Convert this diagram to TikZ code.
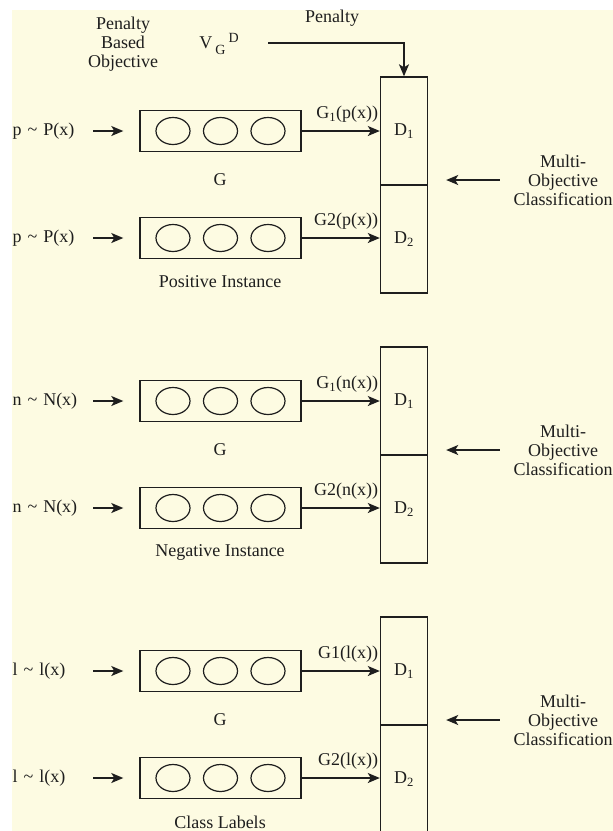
\documentclass[tikz,border=0pt]{standalone}
\usepackage{fontspec}
\setmainfont{Liberation Serif}
\usetikzlibrary{shapes,arrows.meta,positioning}

\definecolor{bgcream}{RGB}{253,251,226}
\definecolor{inkgray}{RGB}{30,30,30}

\tikzset{
  every node/.style={font=\fontsize{18}{19}\selectfont, text=inkgray},
  gbox/.style={draw=inkgray, line width=1.4pt, minimum width=161pt, minimum height=41pt, inner sep=0pt},
  unit/.style={draw=inkgray, line width=1.2pt, ellipse, minimum width=34pt, minimum height=27pt, inner sep=0pt},
  dbox/.style={draw=inkgray, line width=1.4pt, minimum width=47pt, minimum height=108pt, inner sep=0pt},
  inlab/.style={anchor=west, text width=72pt, align=left},
  outlab/.style={above left, inner xsep=1pt, inner ysep=2pt, yshift=6pt},
  arr/.style={-{Stealth[length=12pt,width=10pt,inset=3pt]}, draw=inkgray, line width=1.4pt},
}

\begin{document}
\begin{tikzpicture}[x=1pt, y=-1pt]
    % page and cream background
    \useasboundingbox (0,0) rectangle (613,831);
    \fill[white] (0,0) rectangle (613,831);
    \fill[bgcream] (12,10) rectangle (613,831);

    % three stacked generator / discriminator groups
    \foreach \grp/\lo/\up/\one/\capt in {0/p/P/{\textsubscript{1}}/Positive Instance,
                                        1/n/N/{\textsubscript{1}}/Negative Instance,
                                        2/l/l/1/Class Labels} {
        \pgfmathsetmacro{\oy}{270*\grp}
        % discriminator column
        \node[dbox] (dA\grp) at (404, 131+\oy) {D\textsubscript{1}};
        \node[dbox] (dB\grp) at (404, 239+\oy) {D\textsubscript{2}};
        % generator boxes with units
        \node[gbox] (gA\grp) at (220.5, 131+\oy) {};
        \node[gbox] (gB\grp) at (220.5, 238+\oy) {};
        \foreach \ux [count=\ui] in {-47.5,0,47.5} {
            \node[unit] (uA\grp-\ui) at ([xshift=\ux pt]gA\grp.center) {};
            \node[unit] (uB\grp-\ui) at ([xshift=\ux pt]gB\grp.center) {};
        }
        \node (gl\grp) at (220, 180+\oy) {G};
        \node (cap\grp) at (220, 282+\oy) {\capt};
        % inputs
        \node[inlab] (inA\grp) at (9, 131+\oy) {\lo\ \textasciitilde\ \up(x)};
        \node[inlab] (inB\grp) at (9, 238+\oy) {\lo\ \textasciitilde\ \up(x)};
        \draw[arr] ([xshift=5pt]inA\grp.east) -- ([xshift=-16pt]gA\grp.west);
        \draw[arr] ([xshift=5pt]inB\grp.east) -- ([xshift=-16pt]gB\grp.west);
        % outputs into D
        \draw[arr] (gA\grp.east) -- (gA\grp.east -| dA\grp.west)
            node[outlab] (oA\grp) {G\one(\lo(x))};
        \draw[arr] (gB\grp.east) -- (gB\grp.east -| dB\grp.west)
            node[outlab] (oB\grp) {G2(\lo(x))};
        % multi-objective side input
        \node[align=center] (mo\grp) at (563, 180+\oy) {Multi-\\Objective\\Classification};
        \draw[arr] ([xshift=-10pt]mo\grp.west) -- ([xshift=18pt]mo\grp.west -| dA\grp.east);
    }

    % penalty input on top
    \node[align=center] (pbo) at (123, 44) {Penalty\\Based\\Objective};
    \node (vgd) at (219, 44) {V\,\raisebox{-6pt}{\fontsize{14}{14}\selectfont G}\,\raisebox{6pt}{\fontsize{14}{14}\selectfont D}};
    \node (pen) at (332, 18) {Penalty};
    \coordinate (pstart) at (268, 43);
    \draw[arr] (pstart) -| (dA0.north);
\end{tikzpicture}
\end{document}
